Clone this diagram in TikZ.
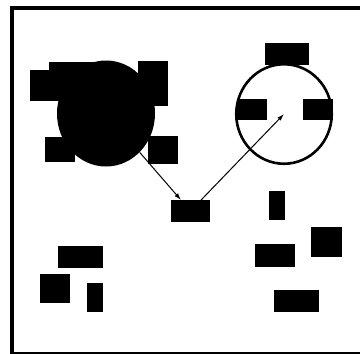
\documentclass[tikz,border=0pt]{standalone}
\usetikzlibrary{arrows.meta,shapes.geometric}
\tikzset{
  blk/.style={fill=black, draw=none, inner sep=0pt, outer sep=0pt, rectangle},
  arr/.style={line width=1pt, -{Latex[length=7pt,width=4.5pt]}},
  frameline/.style={line width=3.5pt},
}
\begin{document}
\begin{tikzpicture}[x=1pt,y=-1pt]
\useasboundingbox (0,0) rectangle (360,354);
\begin{scope}
\clip (0,0) rectangle (360,354);
\draw[frameline] (12,356) -- (12,8) -- (364,8);
\draw[line width=1.5pt] (12,353) -- (364,353);
\end{scope}
% left filled circle cluster
\node[ellipse, fill=black, inner sep=0pt, minimum width=98pt, minimum height=106pt] (lc) at (106,113.5) {};
\node[blk, minimum width=42pt, minimum height=31pt] (a) at (51,85.5) {};
\node[blk, minimum width=51pt, minimum height=38pt] (b) at (74.5,81) {};
\node[blk, minimum width=30pt, minimum height=45pt] (c) at (153,83.5) {};
\node[blk, minimum width=30pt, minimum height=25pt] (d) at (60,149.5) {};
\node[blk, minimum width=30pt, minimum height=28pt] (e) at (163,150) {};
% middle
\node[blk, minimum width=39pt, minimum height=22pt] (f) at (190.5,211) {};
% right open circle
\node[ellipse, draw=black, line width=2.6pt, inner sep=0pt, minimum width=95.5pt, minimum height=99.5pt] (rc) at (284,114) {};
\node[blk, minimum width=44pt, minimum height=22pt] (g) at (287,54) {};
\node[blk, minimum width=30pt, minimum height=21pt] (h) at (252,109.5) {};
\node[blk, minimum width=30pt, minimum height=21pt] (i) at (318,109.5) {};
% bottom left group
\node[blk, minimum width=45pt, minimum height=22pt] (j) at (80.5,257) {};
\node[blk, minimum width=30pt, minimum height=29pt] (k) at (55,288.5) {};
\node[blk, minimum width=16pt, minimum height=29pt] (l) at (95,297.5) {};
% bottom right group
\node[blk, minimum width=16pt, minimum height=29pt] (m) at (277,205.5) {};
\node[blk, minimum width=31pt, minimum height=30pt] (n) at (326.5,242) {};
\node[blk, minimum width=40pt, minimum height=23pt] (o) at (275,255.5) {};
\node[blk, minimum width=45pt, minimum height=22pt] (p) at (296.5,301) {};
% connectors
\draw[arr] (lc) -- (f);
\draw[arr] (f) -- (rc.center);
\end{tikzpicture}
\end{document}
